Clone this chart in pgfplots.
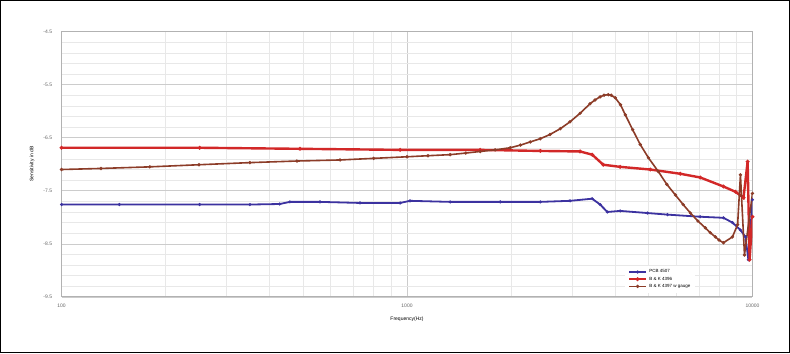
\documentclass[border=0pt]{standalone}
\usepackage{pgfplots}
\pgfplotsset{compat=1.18}
\usepackage{fontspec}
\setmainfont{Liberation Sans}
\definecolor{cblue}{RGB}{60,50,160}
\definecolor{cred}{RGB}{210,40,40}
\definecolor{cbrown}{RGB}{140,60,40}
\begin{document}
\begin{tikzpicture}
\draw[black, line width=1pt] (1pt,1pt) rectangle (789pt,353pt);
\begin{axis}[
  at={(62pt,57pt)}, anchor=south west,
  width=690pt, height=265pt, scale only axis,
  xmode=log, xmin=100, xmax=10000,
  ymin=-9.5, ymax=-4.5,
  ytick={-9.5,-8.5,-7.5,-6.5,-5.5,-4.5},
  yticklabels={-9.5,-8.5,-7.5,-6.5,-5.5,-4.5},
  xtick={100,1000,10000}, xticklabels={100,1000,10000},
  minor y tick num=4,
  grid=both,
  major grid style={gray!40, line width=0.6pt},
  minor grid style={gray!18, line width=0.4pt},
  axis line style={gray!60, line width=0.8pt},
  tick style={draw=none},
  tick label style={font=\fontsize{5}{6}\selectfont, text=gray!80!black},
  xticklabel style={yshift=-4pt},
  yticklabel style={xshift=-6pt},
  /pgf/number format/assume math mode=true,
  xlabel={Frequency(Hz)}, ylabel={Sensitivity in dB},
  xlabel style={font=\fontsize{5}{6}\selectfont, yshift=-2pt},
  ylabel style={font=\fontsize{5}{6}\selectfont, yshift=2pt},
  legend style={draw=none, fill=white, font=\fontsize{4.5}{5}\selectfont,
    at={(0.815,0.015)}, anchor=south west, row sep=-1.5pt},
  legend cell align=left,
  mark size=0.9pt,
]
\addplot[cblue, line width=1.8pt, mark=*, mark options={scale=0.5}] coordinates {
(100,-7.76)(147,-7.76)(251,-7.76)(351,-7.76)(428,-7.75)(458,-7.71)(560,-7.71)(731,-7.73)(955,-7.73)(1020,-7.69)(1333,-7.71)(1862,-7.71)(2432,-7.71)(2965,-7.69)(3436,-7.65)(3622,-7.76)(3802,-7.90)(4140,-7.88)(4961,-7.92)(5675,-7.95)(7060,-7.99)(8241,-8.01)(8750,-8.10)(9230,-8.24)(9545,-8.37)(9730,-8.80)(10000,-7.67)
};
\addlegendentry{PCB 4507}
\addplot[cred, line width=2.4pt, mark=*, mark options={scale=0.5}] coordinates {
(100,-6.69)(251,-6.69)(490,-6.71)(955,-6.73)(1629,-6.73)(2432,-6.75)(3170,-6.76)(3436,-6.82)(3699,-7.01)(4140,-7.05)(5058,-7.10)(6180,-7.18)(7060,-7.25)(8241,-7.42)(8930,-7.52)(9420,-7.63)(9683,-6.95)(9810,-8.80)(10000,-7.99)
};
\addlegendentry{B \& K 4396}
\addplot[cbrown, line width=1.6pt, mark=*, mark options={scale=0.8, fill=cbrown!60!black}] coordinates {
(100,-7.10)(130,-7.08)(180,-7.05)(250,-7.01)(351,-6.97)(480,-6.94)(640,-6.92)(800,-6.89)(1000,-6.86)(1150,-6.84)(1333,-6.82)(1480,-6.79)(1629,-6.76)(1800,-6.73)(1989,-6.69)(2130,-6.64)(2274,-6.58)(2430,-6.52)(2594,-6.44)(2780,-6.33)(2965,-6.20)(3170,-6.04)(3388,-5.86)(3500,-5.79)(3622,-5.73)(3720,-5.70)(3826,-5.69)(3900,-5.70)(4008,-5.75)(4150,-5.88)(4285,-6.07)(4500,-6.35)(4734,-6.63)(5000,-6.88)(5342,-7.14)(5650,-7.38)(5984,-7.58)(6300,-7.76)(6612,-7.92)(6950,-8.07)(7305,-8.20)(7550,-8.29)(7810,-8.37)(8000,-8.43)(8241,-8.48)(8750,-8.37)(9057,-8.14)(9230,-7.20)(9482,-8.71)(10000,-7.55)
};
\addlegendentry{B \& K 4397 w gauge}
\end{axis}
\end{tikzpicture}
\end{document}
